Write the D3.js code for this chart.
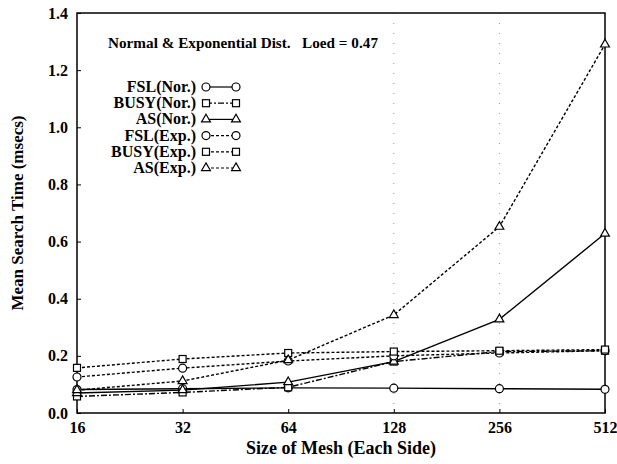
<!DOCTYPE html>
<html>
<head>
<meta charset="utf-8">
<script src="https://cdn.jsdelivr.net/npm/d3@7"></script>
<style>
  body { margin: 0; background: #fff; }
</style>
</head>
<body>
<svg id="chart"></svg>
<script>
// kich thuoc mang (moi canh)
const meshSizes = [16, 32, 64, 128, 256, 512];
const yTicks = [0, 0.2, 0.4, 0.6, 0.8, 1.0, 1.2, 1.4];

// thoi gian tim kiem trung binh (msecs)
const fslNor  = [0.082, 0.085, 0.088, 0.087, 0.085, 0.083];
const busyNor = [0.058, 0.072, 0.090, 0.180, 0.215, 0.218];
const asNor   = [0.070, 0.080, 0.108, 0.180, 0.328, 0.628];
const fslExp  = [0.126, 0.157, 0.182, 0.200, 0.210, 0.218];
const busyExp = [0.158, 0.189, 0.210, 0.215, 0.218, 0.222];
const asExp   = [0.080, 0.112, 0.185, 0.343, 0.652, 1.290];

const seriesNames = ["FSL(Nor.)", "BUSY(Nor.)", "AS(Nor.)", "FSL(Exp.)", "BUSY(Exp.)", "AS(Exp.)"];
const seriesValues = [fslNor, busyNor, asNor, fslExp, busyExp, asExp];
const seriesShape = ["circle", "square", "triangle", "circle", "square", "triangle"];
const seriesDash = [null, "6,2,2,2", null, "3,2", "3,2", "3,2"];

const FONT = "'Liberation Serif', 'Times New Roman', serif";

const width = 617, height = 464;
const margin = { top: 13, right: 12, bottom: 51, left: 77 };

const svg = d3.select("#chart").attr("width", width).attr("height", height);
const g = svg.append("g").attr("transform", `translate(${margin.left},${margin.top})`);
const w = width - margin.left - margin.right;
const h = height - margin.top - margin.bottom;

const x = d3.scaleLog().base(2).domain([16, 512]).range([0, w]);
const y = d3.scaleLinear().domain([0, 1.4]).range([h, 0]);

// luoi cham mo o 128 va 256 (giong ban scan)
g.selectAll(".grid")
  .data([128, 256])
  .enter().append("line")
  .attr("x1", d => x(d)).attr("x2", d => x(d))
  .attr("y1", 0).attr("y2", h)
  .attr("stroke", "#999").attr("stroke-width", 1)
  .attr("stroke-dasharray", "1,9");

// khung
g.append("rect").attr("width", w).attr("height", h)
  .attr("fill", "none").attr("stroke", "#000").attr("stroke-width", 1.5);

// truc X
const xAxis = g.append("g")
  .attr("transform", `translate(0,${h})`)
  .call(d3.axisBottom(x).tickValues(meshSizes).tickFormat(d3.format("d")).tickSize(-4).tickPadding(9));
xAxis.select(".domain").remove();
xAxis.selectAll("text")
  .attr("font-family", FONT).attr("font-weight", "bold").attr("font-size", 16).attr("fill", "#000");

// truc Y
const yAxis = g.append("g")
  .call(d3.axisLeft(y).tickValues(yTicks).tickFormat(d3.format(".1f")).tickSize(-4).tickPadding(9));
yAxis.select(".domain").remove();
yAxis.selectAll("text")
  .attr("font-family", FONT).attr("font-weight", "bold").attr("font-size", 16).attr("fill", "#000");

// nhan truc
svg.append("text")
  .attr("x", margin.left + w / 2).attr("y", 454)
  .attr("text-anchor", "middle")
  .attr("font-family", FONT).attr("font-weight", "bold").attr("font-size", 18)
  .text("Size of Mesh (Each Side)");

svg.append("text")
  .attr("transform", `translate(23,${margin.top + h / 2}) rotate(-90)`)
  .attr("text-anchor", "middle")
  .attr("font-family", FONT).attr("font-weight", "bold").attr("font-size", 17)
  .text("Mean Search Time (msecs)");

// tieu de ben trong
svg.append("text")
  .attr("x", 108).attr("y", 48)
  .attr("font-family", FONT).attr("font-weight", "bold").attr("font-size", 15)
  .style("white-space", "pre")
  .attr("textLength", 270).attr("lengthAdjust", "spacingAndGlyphs")
  .text("Normal & Exponential Dist.   Loed = 0.47");

function drawMarker(sel, shape, cx, cy) {
  if (shape === "circle") {
    sel.append("circle").attr("cx", cx).attr("cy", cy).attr("r", 4)
      .attr("fill", "#fff").attr("stroke", "#000").attr("stroke-width", 1.2);
  } else if (shape === "square") {
    sel.append("rect").attr("x", cx - 3.5).attr("y", cy - 3.5).attr("width", 7).attr("height", 7)
      .attr("fill", "#fff").attr("stroke", "#000").attr("stroke-width", 1.2);
  } else {
    sel.append("path").attr("d", d3.symbol(d3.symbolTriangle, 34)())
      .attr("transform", `translate(${cx},${cy})`)
      .attr("fill", "#fff").attr("stroke", "#000").attr("stroke-width", 1.2);
  }
}

const line = d3.line().x((d, i) => x(meshSizes[i])).y(d => y(d));

seriesValues.forEach((vals, k) => {
  g.append("path").datum(vals)
    .attr("fill", "none").attr("stroke", "#000").attr("stroke-width", 1.4)
    .attr("stroke-dasharray", seriesDash[k])
    .attr("d", line);
});
seriesValues.forEach((vals, k) => {
  vals.forEach((v, i) => drawMarker(g, seriesShape[k], x(meshSizes[i]), y(v)));
});

// chu giai
const legend = svg.append("g");
seriesNames.forEach((name, k) => {
  const ly = 87 + k * 16.2;
  legend.append("text")
    .attr("x", 196).attr("y", ly + 5)
    .attr("text-anchor", "end")
    .attr("font-family", FONT).attr("font-weight", "bold").attr("font-size", 16)
    .text(name);
  legend.append("line")
    .attr("x1", 206).attr("x2", 236).attr("y1", ly).attr("y2", ly)
    .attr("stroke", "#000").attr("stroke-width", 1.2)
    .attr("stroke-dasharray", seriesDash[k]);
  drawMarker(legend, seriesShape[k], 206, ly);
  drawMarker(legend, seriesShape[k], 236, ly);
});
</script>
</body>
</html>
